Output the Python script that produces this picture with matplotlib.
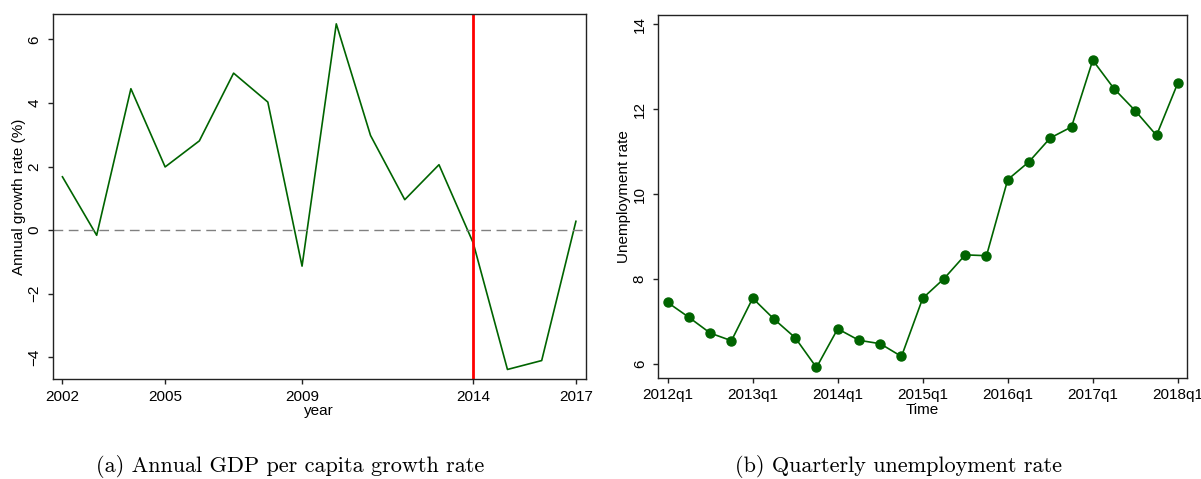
import matplotlib
matplotlib.use("Agg")
import matplotlib.pyplot as plt

# Data
years = list(range(2002, 2018))
gdp_growth = [1.68, -0.16, 4.45, 1.99, 2.81, 4.94, 4.03, -1.13, 6.49, 2.98,
              0.96, 2.06, -0.40, -4.38, -4.10, 0.28]
year_ticks = [2002, 2005, 2009, 2014, 2017]
gdp_yticks = [-4, -2, 0, 2, 4, 6]
event_year = 2014

quarters = list(range(25))  # 2012q1 .. 2018q1
unemp = [7.45, 7.10, 6.73, 6.55, 7.55, 7.06, 6.62, 5.92, 6.83, 6.56, 6.48, 6.18,
         7.55, 8.01, 8.57, 8.55, 10.34, 10.76, 11.32, 11.58, 13.15, 12.48, 11.96,
         11.38, 12.61]
q_ticks = [0, 4, 8, 12, 16, 20, 24]
q_labels = ["2012q1", "2013q1", "2014q1", "2015q1", "2016q1", "2017q1", "2018q1"]
un_yticks = [6, 8, 10, 12, 14]

plt.rcParams['font.family'] = ['Liberation Sans', 'DejaVu Sans']
green = '#006400'
W, H = 1201, 479
FS = 11
fig = plt.figure(figsize=(W / 100, H / 100), dpi=100)

def style(ax):
    for s in ax.spines.values():
        s.set_linewidth(1.0)
        s.set_color('#222222')
    ax.tick_params(axis='both', direction='out', length=3.8, width=1, labelsize=FS,
                   color='#222222')
    ax.tick_params(axis='x', pad=3.8)
    ax.tick_params(axis='y', pad=4.0)
    for lab in ax.get_yticklabels():
        lab.set_rotation(90)
        lab.set_va('center')

# Left panel
ax1 = fig.add_axes([52.5 / W, 1 - 379 / H, 533 / W, 365 / H])
ax1.plot(years, gdp_growth, color=green, lw=1.2)
ax1.axhline(0, color='#808080', lw=1.0, ls=(0, (7, 4)))
ax1.axvline(event_year, color='#ff0000', lw=2.0)
ax1.set_xlim(2001.71, 2017.28)
ax1.set_ylim(-4.68, 6.80)
ax1.set_xticks(year_ticks)
ax1.set_yticks(gdp_yticks)
ax1.set_yticklabels([str(v).replace('-', '\u2212') for v in gdp_yticks])
ax1.set_xlabel('year', fontsize=FS, labelpad=0.5)
ax1.set_ylabel('Annual growth rate (%)', fontsize=FS, labelpad=1.5)
style(ax1)

# Right panel
ax2 = fig.add_axes([657.7 / W, 1 - 377.7 / H, 529 / W, 363 / H])
ax2.plot(quarters, unemp, color=green, lw=1.2, marker='o', markersize=6.5,
         markerfacecolor=green, markeredgecolor=green)
ax2.set_xlim(-0.47, 24.42)
ax2.set_ylim(5.68, 14.22)
ax2.set_xticks(q_ticks)
ax2.set_xticklabels(q_labels)
ax2.set_yticks(un_yticks)
ax2.set_xlabel('Time', fontsize=FS, labelpad=0.5)
ax2.set_ylabel('Unemployment rate', fontsize=FS, labelpad=1.5)
style(ax2)

# Captions
cap_font = ['cmr10', 'DejaVu Serif']
fig.text(290.5 / W, 1 - 467 / H, '(a) Annual GDP per capita growth rate',
         ha='center', va='center', fontsize=16, family=cap_font)
fig.text(898 / W, 1 - 467 / H, '(b) Quarterly unemployment rate',
         ha='center', va='center', fontsize=16, family=cap_font)

fig.savefig('out.png', dpi=100)
